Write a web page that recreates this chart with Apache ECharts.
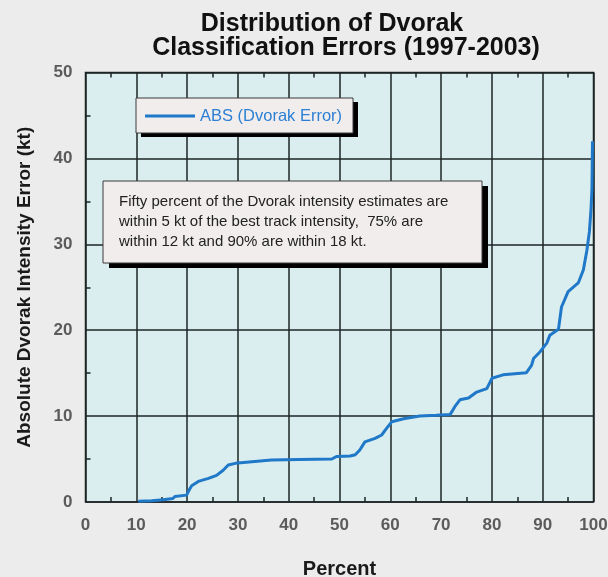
<!DOCTYPE html>
<html>
<head>
<meta charset="utf-8">
<script src="https://cdn.jsdelivr.net/npm/echarts@6/dist/echarts.min.js"></script>
<style>
html,body{margin:0;padding:0;background:#ececec;}
#c{width:608px;height:577px;}
</style>
</head>
<body>
<div id="c"></div>
<script>
// ---- data ----
var percent = [10.4, 13, 15.3, 17.2, 17.6, 19.9, 20.4, 20.9, 22.2, 24.2, 25.8, 27.1, 28.1, 29.5, 31.1, 36.6, 42, 48.5, 49.4, 52.1, 53.1, 54.0, 55.0, 57.0, 58.3, 59.3, 60.3, 62.6, 65.8, 69, 71.8, 72.7, 73.7, 75.4, 77.0, 79.0, 80.0, 82.2, 86.8, 87.8, 88.2, 89.5, 90.8, 91.4, 93.1, 93.7, 95.0, 97.0, 98.0, 98.7, 99.2, 99.5, 99.7, 99.8];
var absError = [0.1, 0.15, 0.25, 0.4, 0.65, 0.8, 1.4, 1.9, 2.4, 2.75, 3.1, 3.7, 4.3, 4.5, 4.6, 4.9, 4.95, 5.0, 5.3, 5.35, 5.5, 6.05, 7.0, 7.4, 7.8, 8.6, 9.35, 9.7, 10.0, 10.1, 10.2, 11.1, 11.9, 12.1, 12.8, 13.2, 14.4, 14.8, 15.05, 15.9, 16.7, 17.5, 18.5, 19.4, 20.1, 22.7, 24.5, 25.5, 27.0, 29.3, 31.5, 34.0, 36.5, 42.0];
var xTicks = [0, 10, 20, 30, 40, 50, 60, 70, 80, 90, 100];
var yTicks = [0, 10, 20, 30, 40, 50];
var titleLines = ['Distribution of Dvorak', 'Classification Errors (1997-2003)'];
var seriesName = 'ABS (Dvorak Error)';
var noteText = 'Fifty percent of the Dvorak intensity estimates are\nwithin 5 kt of the best track intensity,  75% are\nwithin 12 kt and 90% are within 18 kt.';

var pts = percent.map(function (p, i) { return [p, absError[i]]; });
var gridColor = '#1c2426';
var lblFont = 'Liberation Sans, Arial, sans-serif';

var chart = echarts.init(document.getElementById('c'), null, {renderer: 'canvas'});

function xAxisBase(pos, showLabel) {
  return {
    type: 'value', position: pos, min: xTicks[0], max: xTicks[xTicks.length - 1], interval: 10,
    axisLine: {show: false},
    axisTick: {show: false, inside: true, length: 5},
    minorTick: {show: true, splitNumber: 2, length: 5, lineStyle: {color: gridColor, width: 1.5}},
    splitLine: {show: pos === 'bottom', lineStyle: {color: gridColor, width: 1.5}},
    axisLabel: {show: showLabel, margin: 15, fontSize: 17, fontWeight: 'bold', color: '#5b5b5b', fontFamily: lblFont}
  };
}

var xb = xAxisBase('bottom', true);
xb.name = 'Percent';
xb.nameLocation = 'middle';
xb.nameGap = 57;
xb.nameTextStyle = {fontSize: 20, fontWeight: 'bold', color: '#1a1a1a', fontFamily: lblFont};
var xt = xAxisBase('top', false);

function boxWithShadow(x, y, w, h, dx, dy, z) {
  return [
    {type: 'rect', x: x + dx, y: y + dy, z: z, shape: {width: w, height: h}, style: {fill: '#000'}},
    {type: 'rect', x: x, y: y, z: z + 0.5, shape: {width: w, height: h}, style: {fill: '#f1eded', stroke: '#3a3a3a', lineWidth: 1}}
  ];
}

var graphics = [
  {type: 'text', x: 332, y: 24, z: 10, style: {text: titleLines[0], align: 'center', verticalAlign: 'middle', font: 'bold 25px Liberation Sans, Arial, sans-serif', fill: '#111'}},
  {type: 'text', x: 346, y: 48, z: 10, style: {text: titleLines[1], align: 'center', verticalAlign: 'middle', font: 'bold 25px Liberation Sans, Arial, sans-serif', fill: '#111'}}
]
  .concat(boxWithShadow(136, 98, 217, 35, 5, 4, 2))
  .concat(boxWithShadow(103, 181, 379, 82, 6, 5, 10))
  .concat([
    {type: 'text', x: 119, y: 192, z: 11, style: {text: noteText, align: 'left', verticalAlign: 'top', lineHeight: 20, font: '15px Liberation Sans, Arial, sans-serif', fill: '#222'}}
  ]);

chart.setOption({
  backgroundColor: '#ececec',
  animation: false,
  grid: {
    left: 85.5, right: 14.5, top: 72.5, bottom: 75,
    containLabel: false, outerBoundsMode: 'none',
    show: true, backgroundColor: '#daeef0', borderColor: gridColor, borderWidth: 1.5
  },
  legend: {
    data: [{name: seriesName, icon: 'rect'}], left: 136, top: 98, orient: 'horizontal',
    padding: [9.5, 11, 9.5, 9], itemWidth: 50, itemHeight: 3, itemGap: 5,
    z: 20,
    textStyle: {color: '#2b7fd4', fontSize: 16.5, fontFamily: lblFont},
    selectedMode: false
  },
  xAxis: [xb, xt],
  yAxis: {
    type: 'value', min: yTicks[0], max: yTicks[yTicks.length - 1], interval: 10,
    name: 'Absolute Dvorak Intensity Error (kt)', nameLocation: 'middle', nameGap: 51,
    nameTextStyle: {fontSize: 19, fontWeight: 'bold', color: '#1a1a1a', fontFamily: lblFont},
    axisLine: {show: false},
    axisTick: {show: false, inside: true, length: 5},
    minorTick: {show: true, splitNumber: 2, length: 5, lineStyle: {color: gridColor, width: 1.5}},
    splitLine: {show: true, lineStyle: {color: gridColor, width: 1.5}},
    axisLabel: {margin: 13, fontSize: 17, fontWeight: 'bold', color: '#5b5b5b', fontFamily: lblFont}
  },
  series: [{
    name: seriesName, type: 'line', xAxisIndex: 0, data: pts,
    symbol: 'none', showSymbol: false, smooth: false, z: 5,
    lineStyle: {color: '#1f78c8', width: 3}, itemStyle: {color: '#1f78c8'}
  }],
  graphic: graphics
});
</script>
</body>
</html>
